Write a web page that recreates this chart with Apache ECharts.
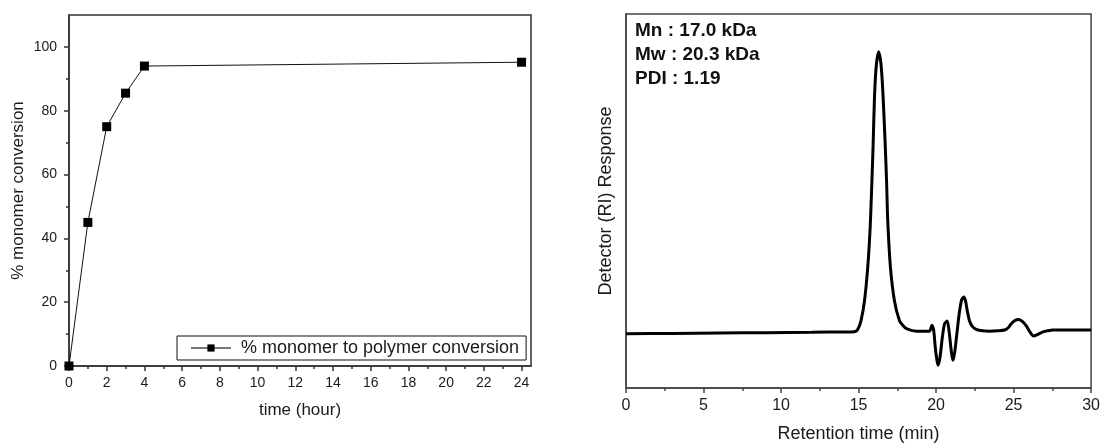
<!DOCTYPE html>
<html>
<head>
<meta charset="utf-8">
<script src="https://cdn.jsdelivr.net/npm/echarts@6/dist/echarts.min.js"></script>
<style>
  html, body { margin: 0; padding: 0; background: #fff; }
  #chart { width: 1103px; height: 448px; }
</style>
</head>
<body>
<div id="chart"></div>
<script>
// --- left panel: monomer conversion vs time ---
var convTime = [0, 1, 2, 3, 4, 24];
var convPct = [0, 45, 75, 85.5, 94, 95.2];
var convXTicks = [0, 2, 4, 6, 8, 10, 12, 14, 16, 18, 20, 22, 24];
var convXMinor = [1, 3, 5, 7, 9, 11, 13, 15, 17, 19, 21, 23];
var convYTicks = [0, 20, 40, 60, 80, 100];
var convYMinor = [10, 30, 50, 70, 90];
var convName = '% monomer to polymer conversion';

// --- right panel: GPC trace ---
var gpcTime = [0, 3, 6, 9, 12, 14, 14.5, 14.85, 15.0, 15.16, 15.38, 15.59, 15.75, 15.85, 15.94, 16.03, 16.15, 16.3,
  16.45, 16.57, 16.71, 16.81, 16.88, 17.06, 17.32, 17.64, 17.85, 18.08, 18.4, 18.73, 19.2, 19.58, 19.73, 19.85,
  19.95, 20.05, 20.12, 20.25, 20.4, 20.55, 20.72, 20.85, 20.97, 21.08, 21.2, 21.35, 21.5, 21.65, 21.78, 21.9,
  22.0, 22.16, 22.35, 22.59, 23.0, 23.45, 24.0, 24.42, 24.65, 24.85, 25.1, 25.34, 25.6, 25.82, 26.05, 26.29,
  26.5, 26.89, 27.2, 27.53, 28.5, 30];
var gpcResponse = [14.5, 14.6, 14.7, 14.8, 14.9, 15.0, 15.0, 15.2, 16.1, 18.0, 23.2, 32.1, 43, 54, 65, 78, 86.5, 89.9,
  86.5, 79, 66, 55, 45, 32.1, 23.2, 18.0, 16.8, 15.9, 15.4, 15.2, 15.2, 15.2, 16.8, 15.3,
  10.8, 7.6, 6.1, 8.1, 13.4, 17.2, 17.9, 14.8, 10.3, 7.4, 9.5, 14.8, 20.1, 23.6, 24.3, 23.3,
  20.9, 17.9, 16.4, 15.7, 15.3, 15.2, 15.3, 15.5, 16.1, 17.2, 18.1, 18.3, 17.7, 16.6, 15.0, 13.9,
  14.2, 15.0, 15.3, 15.5, 15.5, 15.5];
var gpcNotes = ['Mn : 17.0 kDa', 'Mw : 20.3 kDa', 'PDI : 1.19'];

var font = '"Liberation Sans", Arial, Helvetica, sans-serif';
var axisInk = '#333';
var textInk = '#1a1a1a';

var chart = echarts.init(document.getElementById('chart'), null, { renderer: 'canvas' });

function pairs(xs, ys) {
  return xs.map(function (x, i) { return [x, ys[i]]; });
}

chart.setOption({
  animation: false,
  textStyle: { fontFamily: font },
  title: {
    text: gpcNotes.join('\n'),
    left: 635,
    top: 19,
    padding: 0,
    textStyle: { fontFamily: font, fontSize: 19, fontWeight: 'bold', lineHeight: 24, color: '#111' }
  },
  legend: {
    data: [convName],
    left: 177,
    top: 336,
    padding: [3, 7, 3, 13],
    borderColor: '#111',
    borderWidth: 1,
    itemWidth: 40,
    itemHeight: 9,
    lineStyle: { color: '#777', width: 2 },
    textStyle: { fontFamily: font, fontSize: 18, color: textInk, padding: [0, 0, 0, 5] }
  },
  grid: [
    { left: 69, top: 15, width: 462, height: 351, show: true, borderColor: axisInk, borderWidth: 1.5, backgroundColor: 'transparent' },
    { left: 626, top: 14, width: 466, height: 377, show: true, borderColor: '#444', borderWidth: 1.5, backgroundColor: 'transparent' }
  ],
  xAxis: [
    {
      gridIndex: 0, type: 'value', min: 0, max: 24.5, position: 'bottom',
      name: 'time (hour)', nameLocation: 'middle', nameGap: 36,
      nameTextStyle: { fontSize: 17, color: textInk, fontFamily: font },
      axisLine: { lineStyle: { color: axisInk, width: 1.5 } },
      axisTick: { customValues: convXTicks, length: 5, lineStyle: { color: axisInk, width: 1.5 } },
      axisLabel: { customValues: convXTicks, fontSize: 14, color: textInk, margin: 10 },
      splitLine: { show: false }
    },
    {
      gridIndex: 0, type: 'value', min: 0, max: 24.5, position: 'bottom',
      axisLine: { show: false },
      axisTick: { customValues: convXMinor, length: 3, lineStyle: { color: axisInk, width: 1.5 } },
      axisLabel: { show: false },
      splitLine: { show: false }
    },
    {
      gridIndex: 1, type: 'value', min: 0, max: 30, interval: 5, position: 'bottom',
      name: 'Retention time (min)', nameLocation: 'middle', nameGap: 37,
      nameTextStyle: { fontSize: 18, color: textInk, fontFamily: font },
      axisLine: { lineStyle: { color: '#444', width: 1.5 } },
      axisTick: { length: 5, lineStyle: { color: '#444', width: 1.5 } },
      minorTick: { show: true, splitNumber: 2, length: 3, lineStyle: { color: '#444', width: 1.5 } },
      axisLabel: { fontSize: 16, color: textInk, margin: 10 },
      splitLine: { show: false }
    }
  ],
  yAxis: [
    {
      gridIndex: 0, type: 'value', min: 0, max: 110, position: 'left',
      name: '% monomer conversion', nameLocation: 'middle', nameGap: 42,
      nameTextStyle: { fontSize: 17, color: textInk, fontFamily: font },
      axisLine: { show: true, lineStyle: { color: axisInk, width: 1.5 } },
      axisTick: { show: true, customValues: convYTicks, length: 5, lineStyle: { color: axisInk, width: 1.5 } },
      axisLabel: { customValues: convYTicks, fontSize: 14, color: textInk, margin: 12 },
      splitLine: { show: false }
    },
    {
      gridIndex: 0, type: 'value', min: 0, max: 110, position: 'left',
      axisLine: { show: false },
      axisTick: { show: true, customValues: convYMinor, length: 3, lineStyle: { color: axisInk, width: 1.5 } },
      axisLabel: { show: false },
      splitLine: { show: false }
    },
    {
      gridIndex: 1, type: 'value', min: 0, max: 100, position: 'left',
      name: 'Detector (RI) Response', nameLocation: 'middle', nameGap: 11,
      nameTextStyle: { fontSize: 18, color: textInk, fontFamily: font },
      axisLine: { show: true, lineStyle: { color: '#444', width: 1.5 } },
      axisTick: { show: false },
      axisLabel: { show: false },
      splitLine: { show: false }
    }
  ],
  series: [
    {
      name: convName,
      type: 'line',
      xAxisIndex: 0,
      yAxisIndex: 0,
      data: pairs(convTime, convPct),
      symbol: 'rect',
      symbolSize: 9,
      lineStyle: { color: '#111', width: 1 },
      itemStyle: { color: '#000' },
      z: 3
    },
    {
      name: 'GPC',
      type: 'line',
      xAxisIndex: 2,
      yAxisIndex: 2,
      data: pairs(gpcTime, gpcResponse),
      showSymbol: false,
      smooth: 0.25,
      lineStyle: { color: '#000', width: 3 },
      z: 3
    }
  ]
});
window.addEventListener('resize', function () { chart.resize(); });
</script>
</body>
</html>
